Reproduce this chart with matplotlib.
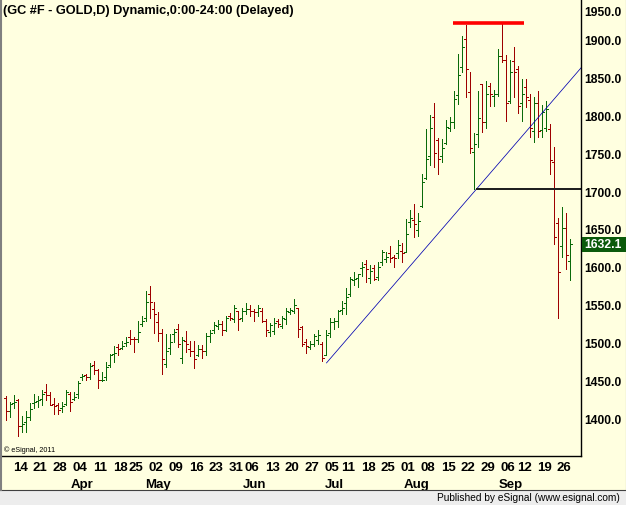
import matplotlib
matplotlib.use("Agg")
import matplotlib.pyplot as plt
from matplotlib.patches import Rectangle
from matplotlib.lines import Line2D
import matplotlib.transforms as mtransforms
import pandas as pd
import numpy as np

# ---------------- data ----------------
start_date = "2011-03-10"
end_date = "2011-09-29"
holidays = ["2011-04-22", "2011-05-30", "2011-07-04", "2011-09-05"]

opens = [1428, 1411, 1422, 1426, 1392, 1397, 1403, 1422, 1425, 1427,
         1436, 1433, 1421, 1419, 1416, 1421, 1434, 1427, 1434, 1457,
         1459, 1457, 1472, 1466, 1452, 1457, 1472, 1487, 1496, 1495,
         1501, 1509, 1507, 1507, 1526, 1534, 1566, 1546, 1529, 1515,
         1474, 1495, 1513, 1520, 1482, 1504, 1493, 1491, 1485, 1493,
         1491, 1511, 1518, 1524, 1526, 1519, 1537, 1533, 1543, 1534,
         1543, 1546, 1544, 1542, 1544, 1531, 1516, 1517, 1530, 1524,
         1533, 1542, 1544, 1547, 1522, 1502, 1496, 1500, 1505, 1500,
         1486, 1515, 1529, 1531, 1545, 1554, 1566, 1584, 1587, 1600,
         1606, 1587, 1601, 1589, 1608, 1612, 1620, 1615.4, 1620, 1622.5,
         1622, 1661, 1664, 1651, 1683, 1720, 1748, 1800, 1770, 1748,
         1766, 1785, 1793, 1829, 1866, 1903, 1833, 1754, 1777, 1843,
         1793, 1841, 1828, 1830, 1881, 1875, 1821, 1874, 1863, 1818,
         1840, 1822, 1782, 1819, 1783, 1786, 1784, 1741, 1660, 1629,
         1653, 1610]
highs = [1431, 1424, 1433, 1427, 1405, 1411, 1422, 1434, 1431, 1439,
         1447, 1436, 1429, 1422, 1423, 1439, 1437, 1436, 1451, 1461,
         1460, 1475, 1478, 1467, 1463, 1476, 1487, 1498, 1500, 1504,
         1509, 1518, 1509, 1530, 1537, 1570, 1577, 1555, 1542, 1520,
         1513, 1513, 1520, 1526, 1509, 1517, 1504, 1504, 1499, 1499,
         1514, 1518, 1529, 1532, 1531, 1537, 1541, 1552, 1544, 1547,
         1554, 1551, 1546, 1552, 1547, 1533, 1528, 1535, 1533, 1537,
         1547, 1548, 1560, 1548, 1524, 1507, 1504, 1513, 1518, 1502,
         1518, 1534, 1534, 1545, 1557, 1574, 1588, 1595, 1593, 1608,
         1611, 1604, 1605, 1608, 1624, 1621, 1630, 1618, 1637, 1633,
         1665, 1677, 1685, 1673, 1725, 1784, 1803, 1819, 1772, 1771,
         1796, 1800, 1834, 1883, 1907, 1921, 1859, 1779, 1834, 1844,
         1848, 1845, 1835, 1890, 1925, 1882, 1875, 1892, 1868, 1850,
         1850, 1831, 1826, 1834, 1816, 1821, 1791, 1760, 1667, 1681,
         1673, 1639]
lows = [1400, 1403, 1416, 1378, 1384, 1384, 1400, 1415, 1417, 1420,
        1426, 1419, 1408, 1408, 1410, 1419, 1411, 1426, 1429, 1452,
        1452, 1454, 1460, 1442, 1451.5, 1452, 1470, 1476, 1486, 1493,
        1498, 1500, 1490, 1502, 1524, 1531, 1535, 1515, 1504, 1460,
        1469, 1487, 1502, 1496, 1475, 1489, 1484, 1468, 1484, 1481,
        1485, 1502, 1514, 1520, 1512, 1517, 1532, 1529, 1518, 1530,
        1540, 1537, 1531, 1537, 1529, 1511, 1511, 1513, 1522, 1521,
        1526, 1540, 1541, 1509, 1498, 1488, 1493, 1497, 1500, 1477,
        1485, 1509, 1520, 1523, 1540, 1540, 1564, 1578, 1575, 1590,
        1582, 1580, 1584, 1584, 1605, 1608, 1608, 1602, 1614, 1608,
        1621, 1654, 1642, 1643, 1681, 1718, 1736, 1734, 1725, 1740,
        1764, 1782, 1786, 1817, 1860, 1827, 1752, 1705, 1760, 1780,
        1786, 1815, 1815, 1828, 1873, 1795, 1818, 1827, 1805, 1795,
        1813, 1774, 1767, 1773, 1773, 1782, 1724, 1632, 1534, 1615,
        1599, 1584]
closes = [1411, 1421, 1424, 1391, 1394, 1403, 1414, 1423, 1426, 1434,
          1433, 1420, 1418, 1413, 1418, 1437, 1424, 1430, 1448, 1458,
          1457, 1471, 1466, 1452, 1453, 1470, 1485, 1488, 1494, 1498,
          1502, 1507, 1506, 1516, 1530, 1556, 1556, 1540, 1515, 1480,
          1491, 1502, 1516, 1500, 1505, 1500, 1491, 1480, 1494, 1491,
          1511, 1515, 1525, 1526, 1518, 1535, 1535, 1548, 1533, 1544,
          1546, 1543, 1542, 1547, 1531, 1518, 1525, 1528, 1526, 1535,
          1544, 1545, 1552, 1520, 1500, 1497, 1500, 1510, 1512, 1482,
          1512, 1529, 1530, 1543, 1548, 1562, 1586, 1586, 1592, 1602,
          1599, 1597, 1586, 1602, 1621, 1615, 1614, 1613.6, 1631, 1620.7,
          1645, 1666, 1659, 1663, 1714, 1744, 1785, 1752, 1744, 1759,
          1787, 1793, 1824, 1855, 1893, 1863, 1759, 1764, 1799, 1793,
          1831, 1831, 1831, 1881, 1875, 1819, 1860, 1859, 1815, 1831,
          1827, 1785, 1818, 1782, 1806, 1811, 1743, 1641, 1595, 1653,
          1618, 1632.1]

price_ticks = [1400, 1450, 1500, 1550, 1600, 1650, 1700, 1750, 1800, 1850, 1900, 1950]
month_names = ["Apr", "May", "Jun", "Jul", "Aug", "Sep"]
first_label_date = "2011-03-14"

trend_x = [80.05, 143.7]
trend_y = [1475, 1865]
support_x = [117.75, 143.7]
support_y = [1705, 1705]
top_x = [111.75, 129.4]
top_y = [1924, 1924]

title = "(GC #F - GOLD,D) Dynamic,0:00-24:00 (Delayed)"
last_price = closes[-1]

# ---------------- dates ----------------
dates = pd.bdate_range(start_date, end_date)
dates = dates[~dates.isin(pd.to_datetime(holidays))]
n = len(dates)
idx = np.arange(n)

# ---------------- figure ----------------
W, H = 626, 506
BG = "#FFFFE0"
plt.rcParams["font.family"] = ["Liberation Sans", "DejaVu Sans"]
fig = plt.figure(figsize=(W / 100, H / 100), dpi=100, facecolor=BG)

ax_left, ax_right, ax_top, ax_bottom = 2, 581, 0, 457
ax = fig.add_axes([ax_left / W, (H - ax_bottom) / H,
                   (ax_right - ax_left) / W, (ax_bottom - ax_top) / H])
ax.set_facecolor(BG)

px_per_bar = 4.0
x0 = 6.3
ax.set_xlim((ax_left - x0) / px_per_bar, (ax_right - x0) / px_per_bar)
ax.set_ylim(1352.0, 1955.9)

for s in ["top", "left"]:
    ax.spines[s].set_visible(False)
for s in ["right", "bottom"]:
    ax.spines[s].set_color("black")
    ax.spines[s].set_linewidth(1.0)
ax.set_xticks([])
ax.set_yticks([])

GREEN = "#0A6A0A"
RED = "#9E0000"
opens_a = np.array(opens, float)
closes_a = np.array(closes, float)
cols = [GREEN if c >= o else RED for o, c in zip(opens_a, closes_a)]

lw = 0.72
ax.vlines(idx, lows, highs, colors=cols, linewidth=lw, antialiased=False)
ax.hlines(opens, idx - 0.5, idx, colors=cols, linewidth=lw, antialiased=False)
ax.hlines(closes, idx, idx + 0.5, colors=cols, linewidth=lw, antialiased=False)

# annotations
ax.plot(trend_x, trend_y, color="#0000B0", linewidth=0.55, antialiased=True)
ax.plot(support_x, support_y, color="#202020", linewidth=1.1, antialiased=False)
ax.plot(top_x, top_y, color="#FF0000", linewidth=2.6, solid_capstyle="butt")

# price labels (right axis)
ytrans = mtransforms.blended_transform_factory(ax.transAxes, ax.transData)
for v in price_ticks:
    va = "top" if v == price_ticks[-1] else "center"
    yoff = -3 if v == price_ticks[-1] else 0
    ax.text(1.0, v, f"{v:.1f}",
            transform=ytrans + mtransforms.ScaledTranslation(3 / 100, yoff / 100, fig.dpi_scale_trans),
            ha="left", va=va, fontsize=8.7, fontweight="bold", color="black", clip_on=False)

# last price box
yp = ax.transData.transform((0, last_price))[1]
box_h = 15
fig.patches.append(Rectangle((582, yp - box_h / 2), 44, box_h, transform=None,
                             facecolor="#0B5A0B", edgecolor="none", zorder=5))
fig.text(584 / W, yp / H, f"{last_price:.1f}", ha="left", va="center",
         fontsize=8.7, fontweight="bold", color="white", zorder=6)

# date labels
xtrans = mtransforms.blended_transform_factory(ax.transData, ax.transAxes)
week = dates.to_period("W")
first_in_week = np.r_[True, week[1:] != week[:-1]]
label_idx = [i for i in idx if first_in_week[i] and dates[i] >= pd.Timestamp(first_label_date)]
date_font = ["Liberation Sans Narrow", "Liberation Sans"]
for i in label_idx:
    ax.text(i - 0.4, 0, dates[i].strftime("%d"),
            transform=xtrans + mtransforms.ScaledTranslation(0, -11 / 100, fig.dpi_scale_trans),
            ha="left", va="center", fontsize=9.5, fontweight="bold", family=date_font, clip_on=False)

# month labels: near the first weekly label of each month
for m in month_names:
    cands = [i for i in label_idx if dates[i].strftime("%b") == m]
    i = cands[0]
    shift = 3.5 if dates[i].day == 1 else 2.0
    ax.text(i + shift, 0, m,
            transform=xtrans + mtransforms.ScaledTranslation(0, -28 / 100, fig.dpi_scale_trans),
            ha="center", va="center", fontsize=9.5, fontweight="bold", family=date_font, clip_on=False)

# title and small texts
fig.text(3 / W, 1 - 11 / H, title, ha="left", va="center", fontsize=9.2, fontweight="bold", color="black")
fig.text(4 / W, 1 - 450 / H, "\u00a9 eSignal, 2011", ha="left", va="center", fontsize=5.2, color="black")

# bottom band
fig.patches.append(Rectangle((0, 0), W, 15, transform=None, facecolor="#EDEDED", edgecolor="none", zorder=1))
fig.lines.append(Line2D([0, W], [15.5, 15.5], transform=None, color="#404040", linewidth=0.8))
fig.lines.append(Line2D([1, 1], [15, H], transform=None, color="#808080", linewidth=1.5))
fig.lines.append(Line2D([W - 0.5, W - 0.5], [15, H], transform=None, color="#808080", linewidth=0.8))
fig.text(620 / W, 7.5 / H, "Published by eSignal (www.esignal.com)", ha="right", va="center",
         fontsize=7.3, color="black", zorder=3)

fig.savefig("out.png", dpi=100, facecolor=BG)
